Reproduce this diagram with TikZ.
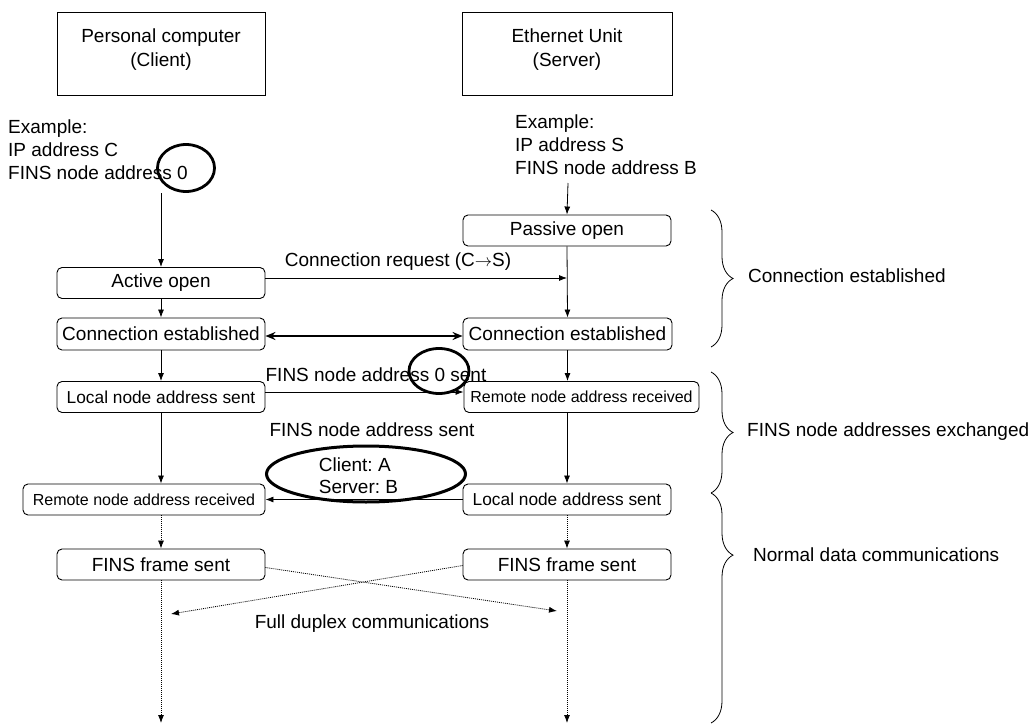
\documentclass[tikz,border=0pt]{standalone}
\usepackage{fontspec}
\setmainfont{Liberation Sans}
\usetikzlibrary{arrows.meta,shapes.geometric,decorations.pathreplacing}
\frenchspacing

\tikzset{
  unitbox/.style={draw,line width=0.9pt,minimum width=208pt,minimum height=83pt},
  stepbox/.style={draw,rounded corners=5pt,line width=0.9pt,minimum width=208pt,minimum height=31pt,inner sep=0pt,font=\fontsize{19}{23}\selectfont},
  note/.style={align=left,inner sep=0pt,font=\fontsize{19}{23}\selectfont},
  markring/.style={draw,ellipse,line width=2.8pt,inner sep=0pt},
  flow/.style={-{Latex[length=8pt,width=6pt]},line width=0.8pt},
  dotflow/.style={flow,dash pattern=on 1pt off 1pt},
  grpbrace/.style={decorate,decoration={brace,amplitude=22pt,#1},line width=0.8pt},
  grpbrace/.default={aspect=0.5},
}

\begin{document}
\begin{tikzpicture}[x=1pt,y=-1pt]
\useasboundingbox (0,0) rectangle (1034,725);
% the two parties
\node[unitbox](pc)at(161,53.5){};
\node[note,align=center,font=\fontsize{19}{24}\selectfont](pcT)at(161,50){Personal computer\\(Client)};
\node[unitbox,minimum width=210pt](eu)at(567,53.5){};
\node[note,align=center,font=\fontsize{19}{24}\selectfont](euT)at(567,50){Ethernet Unit\\(Server)};
\node[note,anchor=west](exC)at(8,150){Example:\\IP address C\\FINS node address 0};
\node[note,anchor=west](exS)at(515,145){Example:\\IP address S\\FINS node address B};
\node[markring,minimum width=57pt,minimum height=47pt](rgC)at(186,168){};
\coordinate(c0)at(161,193);
\coordinate(s0)at(568,183);

% steps
\node[stepbox](po)at(567,230.5){Passive open};
\node[stepbox](ao)at(161,283){Active open};
\node[stepbox,minimum height=32pt](ceC)at(161,334){Connection established};
\node[stepbox,minimum width=209pt,minimum height=32pt](ceS)at(567.5,334){Connection established};
\node[stepbox,font=\fontsize{17.3}{20}\selectfont](lnC)at(161,397){Local node address sent};
\node[stepbox,minimum width=235pt,font=\fontsize{16}{19}\selectfont](rnS)at(581.5,397){Remote node address received};
\node[stepbox,minimum width=242pt,font=\fontsize{16}{19}\selectfont](rnC)at(144,499.5){Remote node address received};
\node[stepbox,font=\fontsize{17.3}{20}\selectfont](lnS)at(567,499.5){Local node address sent};
\node[stepbox](fsC)at(161,564.5){FINS frame sent};
\node[stepbox](fsS)at(567,564.5){FINS frame sent};

% labels
\node[note](lbCr)at(398,262){Connection request (C$\rightarrow$S)};
\node[note](lbA0)at(376,375){FINS node address 0 sent};
\node[markring,minimum width=60pt,minimum height=45pt](rgS)at(439,371){};
\node[note](lbAs)at(372,430){FINS node address sent};
\node[markring,line width=3pt,minimum width=199pt,minimum height=56pt](ab)at(366,474){};
\node[note,font=\fontsize{19}{22}\selectfont](abT)at(358.5,476){Client: A\\Server: B};
\node[note](lbFd)at(372,624){Full duplex communications};

% client / server lines
\draw[flow](c0)--(ao.north);
\draw[flow](s0)--(po.north);
\draw[flow](ao.south)--(ceC.north);
\draw[flow](po.south)--(ceS.north);
\draw[flow]([yshift=5pt]ao.east)--([yshift=5pt]ao.east-|po.south);
\draw[{Stealth[length=10pt,width=8pt]}-{Stealth[length=10pt,width=8pt]},line width=1.8pt]([yshift=-2pt]ceC.east)--([yshift=-2pt]ceS.west);
\draw[flow](ceC.south)--(lnC.north);
\draw[flow](ceS.south)--(ceS.south|-rnS.north);
\draw[flow]([yshift=5pt]lnC.east)--([yshift=5pt]lnC.east-|rnS.west);
\draw[flow](lnC.south)--(lnC.south|-rnC.north);
\draw[flow](lnS.north|-rnS.south)--(lnS.north);
\draw[flow](lnS.west)--(rnC.east);

% data phase
\coordinate(fdS)at(557,611);
\coordinate(fdC)at(171,614);
\coordinate(endC)at(161,723);
\coordinate(endS)at(567,723);
\draw[dotflow](fsC.north|-rnC.south)--(fsC.north);
\draw[dotflow](lnS.south)--(fsS.north);
\draw[dotflow]([yshift=-3pt]fsC.east)--(fdS);
\draw[dotflow]([yshift=-1pt]fsS.west)--(fdC);
\draw[dotflow](fsC.south)--(endC);
\draw[dotflow](fsS.south)--(endS);

% phases
\draw[grpbrace](711,210)--(711,347);
\draw[grpbrace](711,372)--(711,493);
\draw[grpbrace={aspect=0.27}](711,493)--(711,723);
\node[note,anchor=west](phC)at(748,276){Connection established};
\node[note,anchor=west](phF)at(747,432){FINS node addresses exchanged};
\node[note,anchor=west](phN)at(753,555){Normal data communications};
\end{tikzpicture}
\end{document}
